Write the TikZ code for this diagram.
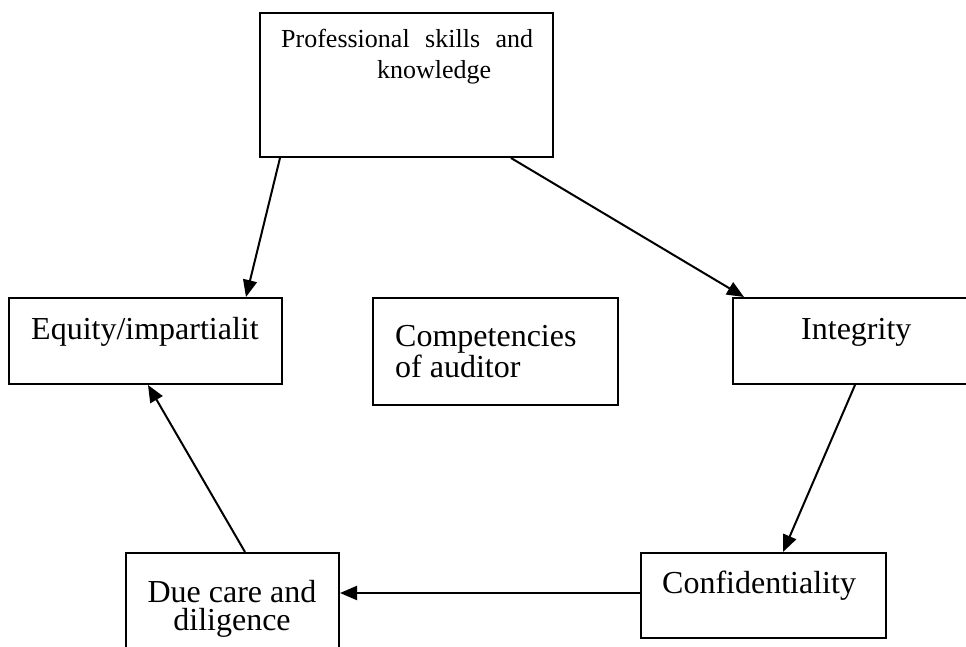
\documentclass[tikz,border=0pt]{standalone}
\usepackage{fontspec}
\setmainfont{Liberation Serif}
\usetikzlibrary{arrows.meta}
\begin{document}
\begin{tikzpicture}[x=1pt,y=-1pt,
  box/.style={draw, line width=2pt, rectangle, inner sep=0pt},
  txt/.style={inner sep=0pt, font=\fontsize{32}{31}\selectfont},
  conn/.style={line width=2pt, -{Triangle[length=17pt,width=14pt]}}]
\useasboundingbox (0,0) rectangle (966,647);
\clip (0,0) rectangle (966,647);
% boxes
\node[box, minimum width=293pt, minimum height=144pt] (prof) at (406.5,85) {};
\node[box, minimum width=273pt, minimum height=86pt] (equity) at (145.5,341) {};
\node[box, minimum width=245pt, minimum height=107pt] (comp) at (495.5,351.5) {};
\node[box, minimum width=250pt, minimum height=86pt] (integ) at (858,341) {};
\node[box, minimum width=213pt, minimum height=110pt] (due) at (232.5,608) {};
\node[box, minimum width=245pt, minimum height=85pt] (conf) at (763.5,595.5) {};
% texts
\node[txt, font=\fontsize{26}{31}\selectfont, anchor=base west, align=left] (proft) at (281,79)
  {\makebox[252pt][s]{Professional\hfill skills\hfill and}\\\hspace*{96pt}knowledge};
\node[txt, anchor=base west] (equityt) at (31,339) {Equity/impartialit};
\node[txt, anchor=base west, align=left] (compt) at (395,377) {Competencies\\of auditor};
\node[txt, anchor=base, align=center, font=\fontsize{32}{28.5}\selectfont] (duet) at (232,630.5) {Due care and\\diligence};
\node[txt, anchor=base west] (integt) at (801,339) {Integrity};
\node[txt, anchor=base west] (conft) at (662,593) {Confidentiality};
% connectors
\draw[conn] ([xshift=21pt]prof.south west) -- ([xshift=238pt]equity.north west);
\draw[conn] ([xshift=-43pt]prof.south east) -- ([xshift=12pt]integ.north west);
\draw[conn] ([xshift=123pt]integ.south west) -- ([xshift=143pt]conf.north west);
\draw[conn] ([yshift=2.5pt]conf.west) -- ([yshift=2.5pt]conf.west -| due.east);
\draw[conn] ([xshift=120pt]due.north west) -- ([xshift=140pt]equity.south west);
\end{tikzpicture}
\end{document}
